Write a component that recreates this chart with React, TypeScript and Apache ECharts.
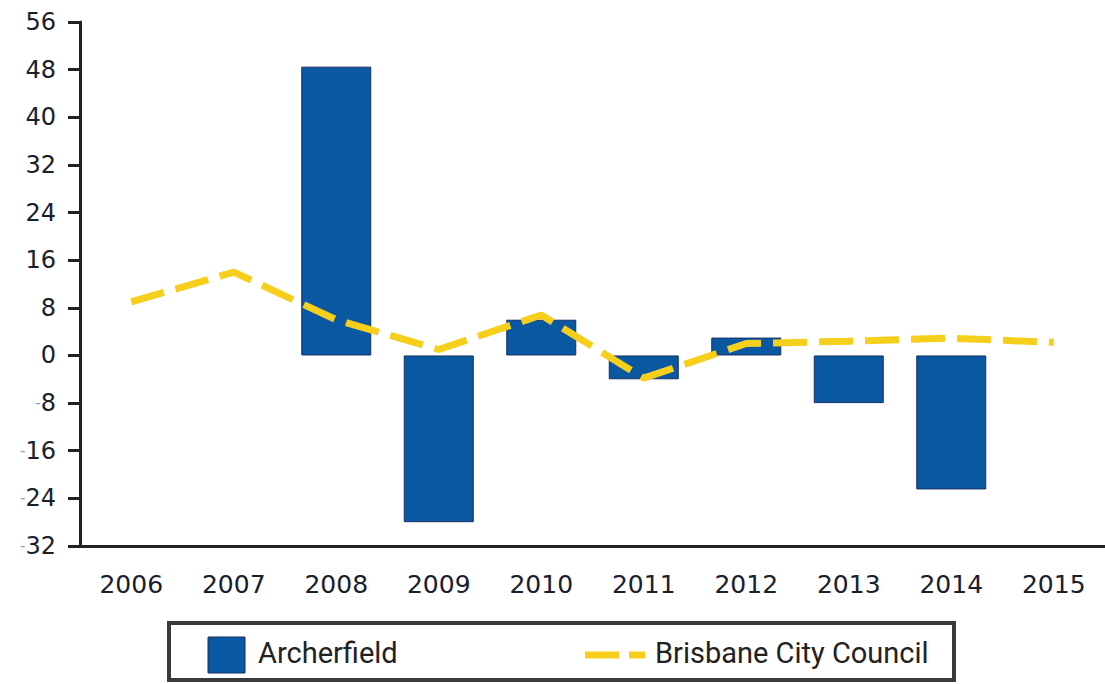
import React, { useEffect, useRef } from "react";
import * as echarts from "echarts";

const years = ["2006", "2007", "2008", "2009", "2010", "2011", "2012", "2013", "2014", "2015"];
const archerfield = [null, null, 48.5, -28, 6, -4, 3, -8, -22.5, null];
const brisbane = [9, 14, 6, 1, 6.8, -3.8, 2, 2.4, 2.9, 2.2];
const yTicks = { min: -32, max: 56, interval: 8 };
const seriesNames = ["Archerfield", "Brisbane City Council"];

const BAR = "#0b58a2";
const LINE = "#f6cf1c";
const INK = "#18202e";

export default function App() {
  const ref = useRef<HTMLDivElement>(null);
  useEffect(() => {
    document.body.style.margin = "0";
    const chart = echarts.init(ref.current!, null, { renderer: "svg" });
    chart.setOption({
      animation: false,
      backgroundColor: "#ffffff",
      grid: { left: 80, top: 22, width: 1033, height: 524, containLabel: false },
      legend: { show: false },
      xAxis: {
        type: "category",
        data: years,
        boundaryGap: true,
        axisLine: { onZero: false, lineStyle: { color: "#222", width: 3 } },
        axisTick: { alignWithLabel: true, length: 11, lineStyle: { color: "#222", width: 3 } },
        axisLabel: { color: INK, fontSize: 25, fontFamily: "DejaVu Sans", margin: 26 },
      },
      yAxis: {
        type: "value",
        min: yTicks.min,
        max: yTicks.max,
        interval: yTicks.interval,
        splitLine: { show: false },
        axisLine: { show: true, lineStyle: { color: "#222", width: 3 } },
        axisTick: { show: true, length: 12, lineStyle: { color: "#222", width: 3 } },
        axisLabel: {
          margin: 24,
          formatter: (v: number) => (v < 0 ? `{m|-}{n|${Math.abs(v)}}` : `{n|${v}}`),
          rich: {
            n: { color: INK, fontSize: 24, fontFamily: "DejaVu Sans" },
            m: { color: "#7f9fcc", fontSize: 15, fontFamily: "DejaVu Sans" },
          },
        },
      },
      series: [
        {
          name: seriesNames[0],
          type: "bar",
          data: archerfield,
          barWidth: 70,
          itemStyle: { color: BAR, borderColor: "#152f66", borderWidth: 1 },
          z: 2,
        },
        {
          name: seriesNames[1],
          type: "line",
          data: brisbane,
          symbol: "none",
          lineStyle: { color: LINE, width: 7, type: [34, 12], cap: "butt" },
          z: 3,
        },
      ],
      graphic: [
        {
          type: "rect",
          shape: { x: 169, y: 623, width: 785, height: 57 },
          style: { fill: "#fff", stroke: "#3a3a3a", lineWidth: 4 },
        },
        {
          type: "rect",
          shape: { x: 208, y: 637, width: 37, height: 36 },
          style: { fill: BAR, stroke: "#152f66", lineWidth: 1 },
        },
        {
          type: "text",
          x: 258,
          y: 653,
          style: {
            text: seriesNames[0],
            fill: "#222",
            fontSize: 29,
            fontFamily: "Liberation Sans Narrow, Roboto, sans-serif",
            verticalAlign: "middle",
          },
        },
        {
          type: "line",
          shape: { x1: 585, y1: 655, x2: 645, y2: 655 },
          style: { stroke: LINE, lineWidth: 7, lineDash: [34, 10] },
        },
        {
          type: "text",
          x: 655,
          y: 653,
          style: {
            text: seriesNames[1],
            fill: "#222",
            fontSize: 29,
            fontFamily: "Liberation Sans Narrow, Roboto, sans-serif",
            verticalAlign: "middle",
          },
        },
      ],
    });
    return () => chart.dispose();
  }, []);
  return <div ref={ref} style={{ width: 1105, height: 684 }} />;
}
